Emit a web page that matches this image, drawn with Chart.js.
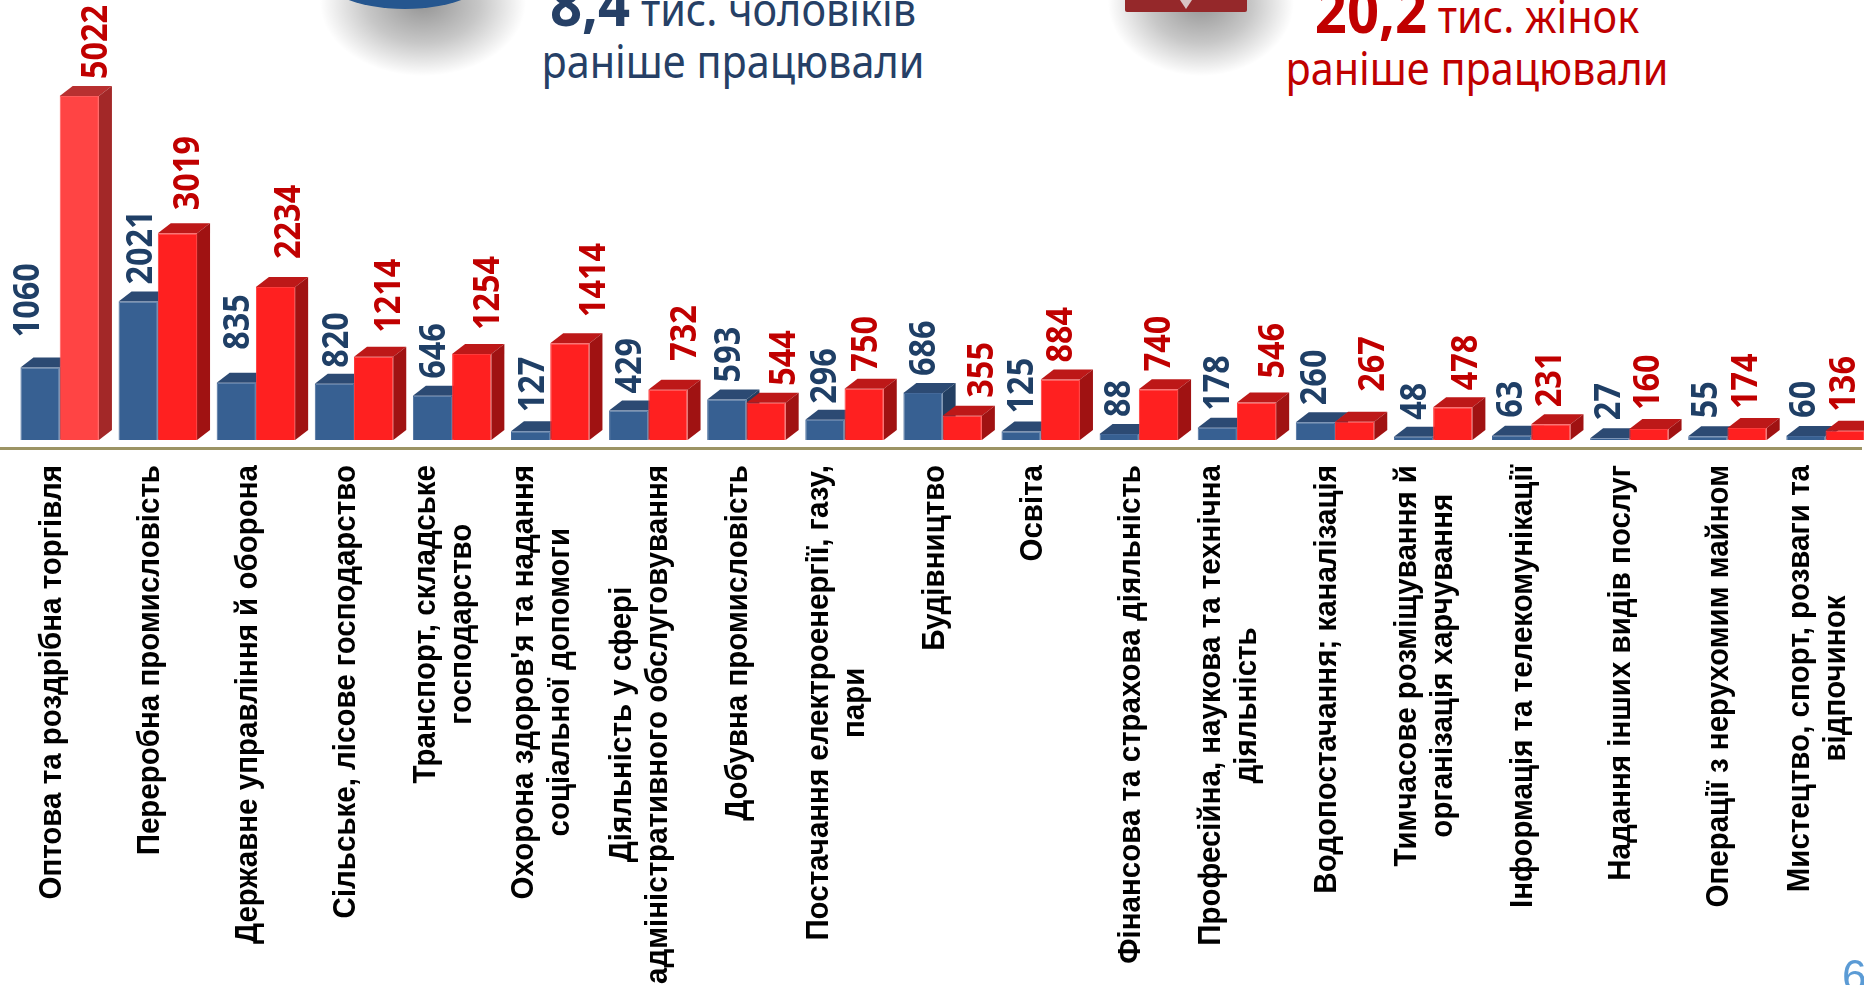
<!DOCTYPE html>
<html>
<head>
<meta charset="utf-8">
<script src="https://cdn.jsdelivr.net/npm/chart.js@4"></script>
<style>
  html, body { margin: 0; padding: 0; background: #fff; overflow: hidden; width: 1864px; height: 985px; }
  #pageViews { position: absolute; left: 0; top: 0; }
  .note { position: absolute; text-align: center; white-space: nowrap; font-family: "Noto Sans", sans-serif; font-size: 45px; line-height: 52px; transform: scaleX(0.92); }
  .note b { font-size: 61px; }
  .men { left: 483px; width: 500px; top: -23px; color: #264066; }
  .women { left: 1227px; width: 500px; top: -16px; color: #c00000; }
  .blob { position: absolute; }
  #pageNo { position: absolute; left: 1842px; top: 951px; font: 44px "Liberation Sans", sans-serif; color: #5b9bd5; }
</style>
</head>
<body>
<div class="blob" style="left:320px;top:-70px;width:206px;height:146px;background:radial-gradient(closest-side,rgba(0,0,0,.42),rgba(0,0,0,.22) 55%,rgba(0,0,0,0))"></div>
<div class="blob" style="left:317px;top:-69px;width:176px;height:78px;border-radius:50%;background:#25568f"></div>
<div class="blob" style="left:1108px;top:-70px;width:186px;height:146px;background:radial-gradient(closest-side,rgba(0,0,0,.42),rgba(0,0,0,.22) 55%,rgba(0,0,0,0))"></div>
<div class="blob" style="left:1125px;top:0;width:122px;height:12px;background:#95282a;border-radius:0 0 2px 2px"></div>
<div class="blob" style="left:1180px;top:0;width:12px;height:9px;background:#d8c4c4;clip-path:polygon(0 0,100% 0,50% 100%)"></div>
<div class="note men"><b>8,4</b> тис. чоловіків<br>раніше працювали</div>
<div class="note women"><b>20,2</b> тис. жінок<br>раніше працювали</div>
<canvas id="pageViews" width="1900" height="985"></canvas>
<div id="pageNo">6</div>
<script>
const categories = [
  ["Оптова та роздрібна торгівля"],
  ["Переробна промисловість"],
  ["Державне управління й оборона"],
  ["Сільське, лісове господарство"],
  ["Транспорт, складське", "господарство"],
  ["Охорона здоров'я та надання", "соціальної допомоги"],
  ["Діяльність у сфері", "адміністративного обслуговування"],
  ["Добувна промисловість"],
  ["Постачання електроенергії, газу,", "пари"],
  ["Будівництво"],
  ["Освіта"],
  ["Фінансова та страхова діяльність"],
  ["Професійна, наукова та технічна", "діяльність"],
  ["Водопостачання; каналізація"],
  ["Тимчасове розміщування й", "організація харчування"],
  ["Інформація та телекомунікації"],
  ["Надання інших видів послуг"],
  ["Операції з нерухомим майном"],
  ["Мистецтво, спорт, розваги та", "відпочинок"],
];
const men = [1060, 2021, 835, 820, 646, 127, 429, 593, 296, 686, 125, 88, 178, 260, 48, 63, 27, 55, 60];
const women = [5022, 3019, 2234, 1214, 1254, 1414, 732, 544, 750, 355, 884, 740, 546, 267, 478, 231, 160, 174, 136];

// ручні зсуви підписів, як на слайді (px)
const menShiftX = [-14, 1, 0, 1, 0, 0, -1, 0, -2, -1, -1, -2, -1, -2, -1, -3, -3, -4, -4];
const womenShiftX = [15, 9, 11, 13, 14, 22, 15, 16, 0, 18, -1, -1, 14, 16, 11, -3, -3, -3, -3];
const menGap = [31, 18, 34, 17, 18, 20, 18, 18, 17, 18, 19, 18, 18, 18, 18, 19, 19, 19, 19];
const womenGap = [18, 24, 29, 25, 25, 27, 30, 18, 18, 19, 18, 19, 25, 31, 18, 18, 20, 20, 20];

const DEPTH_X = 13, DEPTH_Y = 10;
const blueFaces = { top: "#2c4a73", side: "#233f62", front: "#376092", edge: "#44699a" };
const redFaces = { top: "#bd1818", side: "#a01212", front: "#ff2020", edge: "#ff3a3a" };
const firstRedFaces = { top: "#b83030", side: "#a32828", front: "#ff4444", edge: "#ff5a5a" };

function facesFor(datasetIndex, i) {
  if (datasetIndex === 0) return blueFaces;
  return i === 0 ? firstRedFaces : redFaces;
}

function poly(ctx, pts, color) {
  ctx.fillStyle = color;
  ctx.beginPath();
  pts.forEach((p, k) => (k ? ctx.lineTo(p[0], p[1]) : ctx.moveTo(p[0], p[1])));
  ctx.closePath();
  ctx.fill();
}

// top and side faces of the bars, before the library draws the fronts
const depthPlugin = {
  id: "depth",
  beforeDatasetsDraw(chart) {
    const ctx = chart.ctx;
    [0, 1].forEach((d) => {
      chart.getDatasetMeta(d).data.forEach((bar, i) => {
        const l = bar.x - bar.width / 2, r = bar.x + bar.width / 2;
        const f = facesFor(d, i);
        poly(ctx, [[l, bar.y], [l + DEPTH_X, bar.y - DEPTH_Y], [r + DEPTH_X, bar.y - DEPTH_Y], [r, bar.y]], f.top);
        poly(ctx, [[r, bar.y], [r + DEPTH_X, bar.y - DEPTH_Y], [r + DEPTH_X, bar.base - DEPTH_Y], [r, bar.base]], f.side);
      });
    });
  },
};

const labelPlugin = {
  id: "labels",
  afterDraw(chart) {
    const ctx = chart.ctx, area = chart.chartArea, xScale = chart.scales.x;
    // axis line
    ctx.save();
    ctx.fillStyle = "#9c9464";
    ctx.fillRect(0, area.bottom + 7, 1862, 3);
    ctx.restore();

    // values
    [[men, menShiftX, menGap, "#1f3f66"], [women, womenShiftX, womenGap, "#c00000"]].forEach((s, d) => {
      const meta = chart.getDatasetMeta(d);
      s[0].forEach((v, i) => {
        const bar = meta.data[i];
        ctx.save();
        ctx.translate(bar.x + s[1][i] + 13, bar.y - s[2][i] + 1);
        ctx.rotate(-Math.PI / 2);
        ctx.scale(0.9, 1);
        ctx.font = "bold 36px 'Noto Sans'";
        ctx.fillStyle = s[3];
        ctx.textAlign = "left";
        ctx.textBaseline = "alphabetic";
        ctx.fillText(String(v), 0, 0);
        ctx.restore();
      });
    });

    // category names, centred lines in a block hung from the axis
    categories.forEach((lines, i) => {
      const cx = xScale.getPixelForValue(i) + 1;
      ctx.save();
      ctx.font = "bold 32px 'Liberation Sans'";
      ctx.fillStyle = "#000";
      ctx.textAlign = "center";
      ctx.textBaseline = "alphabetic";
      const w = Math.max(...lines.map((t) => ctx.measureText(t).width));
      ctx.translate(cx, 465);
      ctx.rotate(-Math.PI / 2);
      ctx.scale(0.922, 1);
      lines.forEach((t, k) => {
        ctx.fillText(t, -w / 2, (k - (lines.length - 1) / 2) * 36);
      });
      ctx.restore();
    });
  },
};

new Chart(document.getElementById("pageViews").getContext("2d"), {
  type: "bar",
  data: {
    labels: categories.map((c) => c.join(" ")),
    datasets: [
      { label: "Чоловіки", data: men, backgroundColor: blueFaces.front, borderColor: blueFaces.edge, borderWidth: 1 },
      {
        label: "Жінки",
        data: women,
        backgroundColor: women.map((v, i) => facesFor(1, i).front),
        borderColor: women.map((v, i) => facesFor(1, i).edge),
        borderWidth: 1,
      },
    ],
  },
  options: {
    responsive: false,
    animation: false,
    events: [],
    categoryPercentage: 0.8,
    barPercentage: 1,
    layout: { padding: { left: 10.65, right: 25.4, top: 29, bottom: 545 } },
    plugins: { legend: { display: false }, tooltip: { enabled: false } },
    scales: {
      x: { display: false },
      y: { display: false, min: 0, max: 6000 },
    },
  },
  plugins: [depthPlugin, labelPlugin],
});
</script>
</body>
</html>
